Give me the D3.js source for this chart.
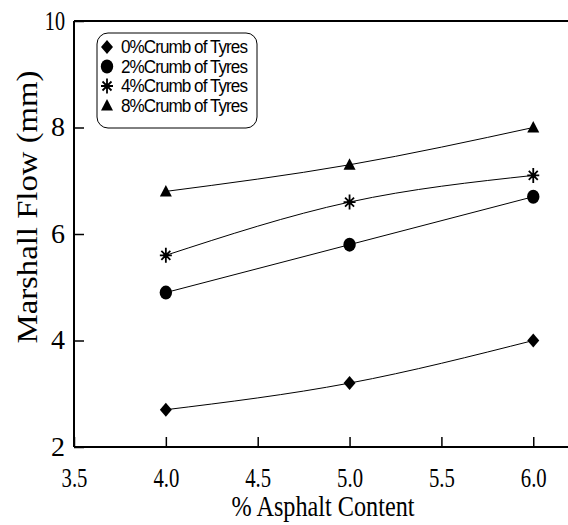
<!DOCTYPE html>
<html>
<head>
<meta charset="utf-8">
<script src="https://d3js.org/d3.v7.min.js"></script>
<style>
  body { margin: 0; background: #fff; }
  text { fill: #000; }
</style>
</head>
<body>
<div id="chart"></div>
<script>

// data
const asphalt = [4.0, 5.0, 6.0];
const crumb0 = [2.7, 3.2, 4.0];
const crumb2 = [4.9, 5.8, 6.7];
const crumb4 = [5.6, 6.6, 7.1];
const crumb8 = [6.8, 7.3, 8.0];
const seriesNames = ["0%Crumb of Tyres", "2%Crumb of Tyres", "4%Crumb of Tyres", "8%Crumb of Tyres"];
const xTicks = [3.5, 4.0, 4.5, 5.0, 5.5, 6.0];
const yTicks = [2, 4, 6, 8, 10];

const W = 568, H = 525;
const serif = "'Liberation Serif', 'Times New Roman', serif";

var svg = d3.select("#chart").append("svg")
    .attr("width", W)
    .attr("height", H);

var x = d3.scaleLinear().domain([3.5, 6.2]).range([74, 570]);
var y = d3.scaleLinear().domain([2, 10]).range([447, 21]);

// squeeze text like the condensed font in the original
function squeeze(sel, factor) {
  sel.each(function() {
    var len = this.getComputedTextLength();
    if (this.textContent.length > 1) {
      d3.select(this)
        .attr("textLength", len * factor)
        .attr("lengthAdjust", "spacingAndGlyphs");
    }
  });
}

// marker shapes
function drawMarker(g, kind, cx, cy) {
  if (kind == 1) {
    g.append("ellipse")
      .attr("cx", cx).attr("cy", cy)
      .attr("rx", 6.2).attr("ry", 7)
      .attr("fill", "#000");
  } else if (kind == 2) {
    g.append("path")
      .attr("transform", "translate(" + cx + "," + cy + ")")
      .attr("d", "M0,-7.5L0,7.5M-6,0L6,0M-4.5,-4.5L4.5,4.5M-4.5,4.5L4.5,-4.5")
      .attr("stroke", "#000")
      .attr("stroke-width", 1.8)
      .attr("fill", "none");
    g.append("circle")
      .attr("cx", cx).attr("cy", cy).attr("r", 2.5)
      .attr("fill", "#000");
  } else if (kind == 0) {
    g.append("path")
      .attr("transform", "translate(" + cx + "," + cy + ")")
      .attr("d", "M0,-7L6,0L0,7L-6,0Z")
      .attr("fill", "#000");
  } else {
    g.append("path")
      .attr("transform", "translate(" + cx + "," + cy + ")")
      .attr("d", "M0,-6.5L6,5L-6,5Z")
      .attr("fill", "#000");
  }
}

// axes (ticks pointing inward)
svg.append("g")
  .attr("transform", "translate(0," + y(2) + ")")
  .call(d3.axisBottom(x).tickValues(xTicks).tickSize(-10).tickFormat(d3.format(".1f")))
  .call(g => g.select(".domain").attr("stroke-width", 2).attr("d", "M74,0H570"))
  .call(g => g.selectAll(".tick line").attr("stroke-width", 1.5))
  .call(g => g.selectAll(".tick text")
      .attr("y", 40)
      .attr("dy", null)
      .style("font-family", serif)
      .style("font-size", "28px")
      .call(squeeze, 0.74));

svg.append("g")
  .attr("transform", "translate(" + x(3.5) + ",0)")
  .call(d3.axisLeft(y).tickValues(yTicks).tickSize(-10).tickFormat(d3.format("d")))
  .call(g => g.select(".domain").attr("stroke-width", 2).attr("d", "M0,447V21"))
  .call(g => g.selectAll(".tick line").attr("stroke-width", 1.5))
  .call(g => g.selectAll(".tick text")
      .attr("x", -9)
      .attr("dy", "0.3em")
      .style("font-family", serif)
      .style("font-size", "28px")
      .call(squeeze, 0.72));

// top frame line
svg.append("line")
  .attr("x1", x(3.5)).attr("x2", W)
  .attr("y1", y(10)).attr("y2", y(10))
  .attr("stroke", "#000").attr("stroke-width", 2);

// axis titles
svg.append("text")
  .attr("x", 323).attr("y", 516)
  .attr("text-anchor", "middle")
  .attr("textLength", 183)
  .attr("lengthAdjust", "spacingAndGlyphs")
  .style("font-family", serif)
  .style("font-size", "29px")
  .text("% Asphalt Content");

svg.append("text")
  .attr("transform", "translate(37,207)rotate(-90)")
  .attr("text-anchor", "middle")
  .attr("textLength", 273)
  .attr("lengthAdjust", "spacingAndGlyphs")
  .style("font-family", serif)
  .style("font-size", "29px")
  .text("Marshall Flow (mm)");

// series
var allSeries = [crumb0, crumb2, crumb4, crumb8];
var line = d3.line()
  .x(function(d, i) { return x(asphalt[i]); })
  .y(function(d) { return y(d); })
  .curve(d3.curveNatural);

var plot = svg.append("g");
allSeries.forEach(function(vals, k) {
  plot.append("path")
    .attr("d", line(vals))
    .attr("fill", "none")
    .attr("stroke", "#000")
    .attr("stroke-width", 1);
  vals.forEach(function(v, i) {
    drawMarker(plot, k, x(asphalt[i]), y(v));
  });
});

// legend
var legend = svg.append("g");
legend.append("rect")
  .attr("x", 97).attr("y", 33)
  .attr("width", 160).attr("height", 95)
  .attr("rx", 11).attr("ry", 11)
  .attr("fill", "#fff")
  .attr("stroke", "#000")
  .attr("stroke-width", 1);

seriesNames.forEach(function(name, k) {
  var ly = 47 + k * 19.5;
  drawMarker(legend, k, 107, ly);
  legend.append("text")
    .attr("x", 121).attr("y", ly)
    .attr("dy", "0.36em")
    .attr("textLength", 126)
    .attr("lengthAdjust", "spacingAndGlyphs")
    .style("font-family", "'Liberation Sans', Arial, sans-serif")
    .style("font-size", "18px")
    .style("letter-spacing", "-1px")
    .text(name);
});

</script>
</body>
</html>
